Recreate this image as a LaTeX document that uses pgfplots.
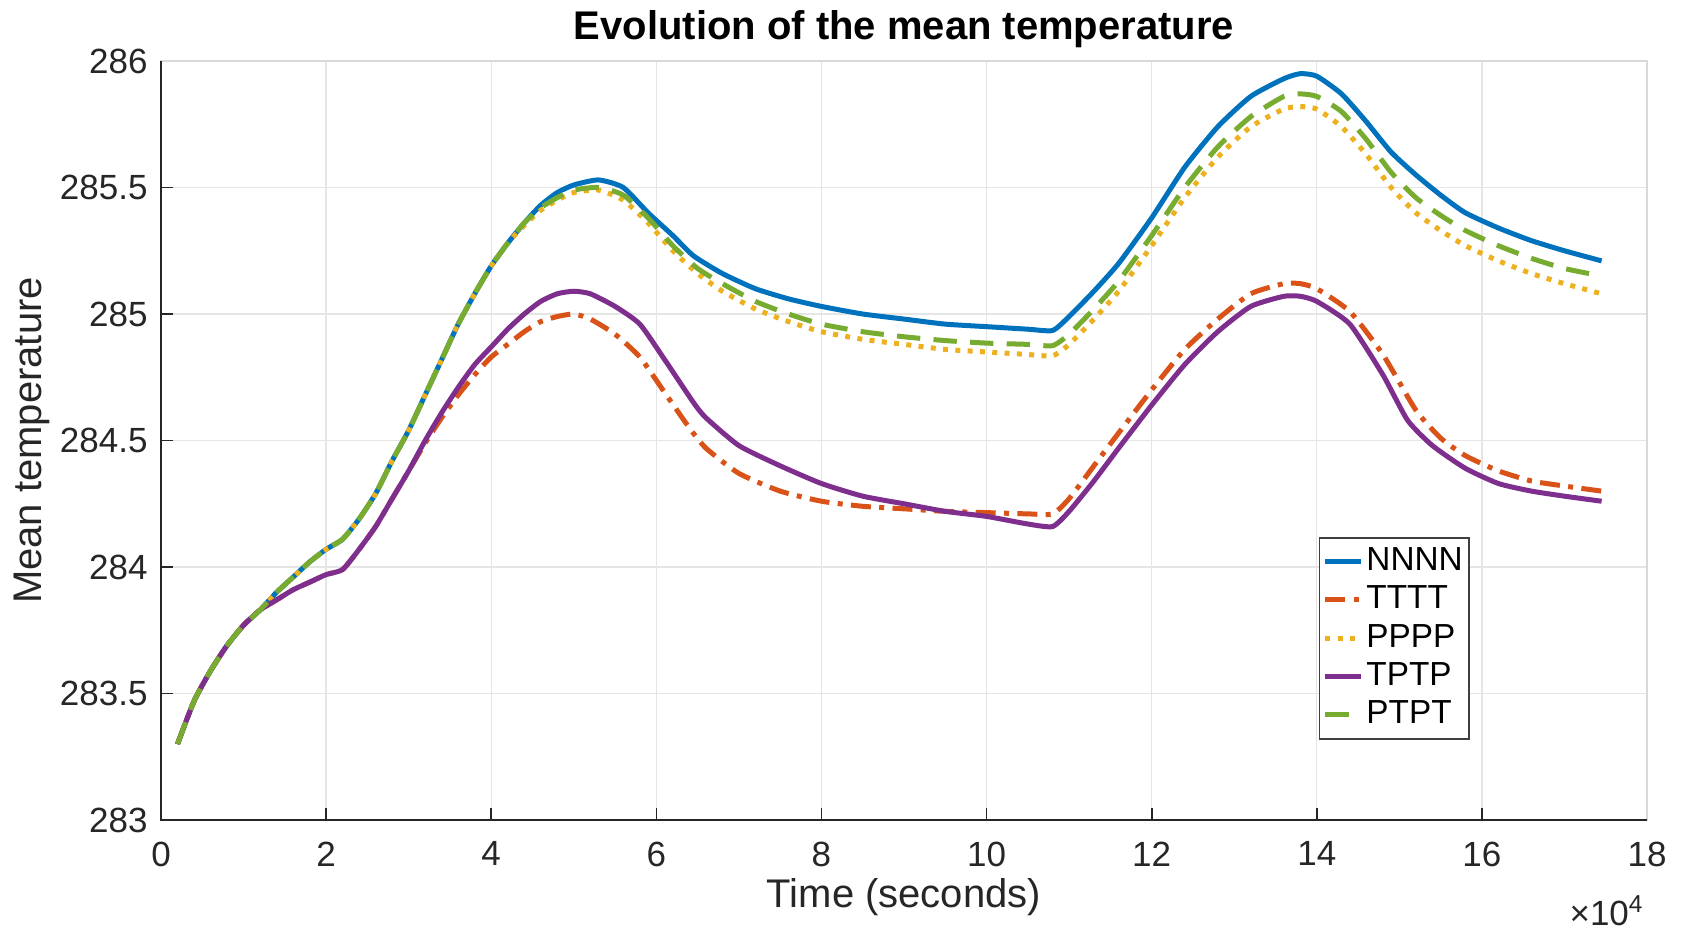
\documentclass[border=0pt]{standalone}
\usepackage{fontspec}
\setmainfont{Liberation Sans}
\usepackage{pgfplots}
\pgfplotsset{compat=1.18}
\definecolor{cN}{rgb}{0,0.447,0.741}
\definecolor{cT}{rgb}{0.85,0.325,0.098}
\definecolor{cP}{rgb}{0.929,0.694,0.125}
\definecolor{cTP}{rgb}{0.494,0.184,0.556}
\definecolor{cPT}{rgb}{0.466,0.674,0.188}
\definecolor{axdark}{rgb}{0.15,0.15,0.15}
\begin{document}
\begin{tikzpicture}
\useasboundingbox (-48.3pt,-33pt) rectangle (456.9pt,246pt);
\begin{axis}[
  scale only axis,
  width=445.8pt, height=227.7pt,
  xmin=0, xmax=18, ymin=283, ymax=286,
  xtick={0,2,...,18}, ytick={283,283.5,284,284.5,285,285.5,286},
  yticklabels={283,283.5,284,284.5,285,285.5,286},
  scaled x ticks=false,
  xtick pos=bottom, ytick pos=left,
  tick align=inside,
  major tick length=3.6pt,
  tick style={axdark, line width=0.5pt},
  axis line style={black!15, line width=0.5pt},
  grid=major,
  major grid style={black!10, line width=0.4pt},
  /pgf/number format/assume math mode=true,
  ticklabel style={font=\fontsize{10.5}{12}\selectfont, text=black!85},
  xticklabel style={yshift=-3pt},
  yticklabel style={xshift=-0.5pt},
  xlabel={Time (seconds)},
  ylabel={Mean temperature},
  label style={font=\fontsize{12}{14}\selectfont, text=black!85},
  xlabel style={at={(axis description cs:0.5,-0.101)}, anchor=center},
  ylabel style={at={(axis description cs:-0.0868,0.5)}, anchor=center, rotate=0},
  title={Evolution of the mean temperature},
  every axis title shift=0pt,
  title style={font=\bfseries\fontsize{12}{14}\selectfont, at={(axis description cs:0.5,1.042)}, anchor=center},
  legend style={at={(rel axis cs:0.779,0.373)}, anchor=north west,
    draw=black!75, fill=white, line width=0.5pt,
    font=\fontsize{10}{11.7}\selectfont, inner sep=1pt,
    nodes={inner xsep=0.8pt, inner ysep=2pt},
    row sep=-0.9pt},
  legend cell align=left,
  legend image code/.code={\draw[#1] (0cm,0cm) -- (0.38cm,0cm);},
  every axis plot/.append style={line width=1.5pt, line join=round, smooth, tension=0.35},
  clip=false,
]
% NNNN
\addplot[cN, solid] coordinates {
(0.2,283.30)(0.4,283.47)(0.6,283.59)(0.8,283.69)(1.0,283.77)(1.2,283.83)
(1.4,283.90)(1.6,283.96)(1.8,284.02)(2.0,284.07)(2.2,284.11)(2.4,284.19)
(2.6,284.29)(2.8,284.42)(3.0,284.54)(3.2,284.68)(3.4,284.82)(3.6,284.96)
(3.8,285.08)(4.0,285.19)(4.2,285.28)(4.4,285.36)(4.6,285.43)(4.8,285.48)
(5.0,285.51)(5.3,285.53)(5.6,285.50)(5.9,285.40)(6.2,285.31)(6.45,285.23)
(6.8,285.16)(7.2,285.10)(7.6,285.06)(8.0,285.03)(8.5,285.00)(9.0,284.98)
(9.5,284.96)(10.0,284.95)(10.5,284.94)(10.8,284.935)(11.0,284.99)(11.3,285.09)
(11.6,285.20)(12.0,285.38)(12.4,285.58)(12.8,285.74)(13.2,285.86)(13.6,285.93)
(13.8,285.95)(14.0,285.94)(14.3,285.87)(14.6,285.76)(14.9,285.64)(15.2,285.55)
(15.5,285.47)(15.8,285.40)(16.2,285.34)(16.6,285.29)(17.0,285.25)(17.45,285.21)
};
\addlegendentry{NNNN}
% TTTT
\addplot[cT, dash pattern=on 6pt off 2.5pt on 1.5pt off 2.5pt] coordinates {
(0.2,283.30)(0.4,283.47)(0.6,283.59)(0.8,283.69)(1.0,283.77)(1.2,283.83)
(1.4,283.87)(1.6,283.91)(1.8,283.94)(2.0,283.97)(2.2,283.99)(2.4,284.07)
(2.6,284.16)(2.8,284.27)(3.0,284.38)(3.2,284.49)(3.4,284.59)(3.6,284.68)
(3.8,284.76)(4.0,284.83)(4.2,284.88)(4.4,284.93)(4.6,284.97)(4.8,284.99)
(5.0,285.00)(5.2,284.98)(5.5,284.92)(5.8,284.83)(6.1,284.69)(6.4,284.55)
(6.6,284.47)(7.0,284.37)(7.5,284.30)(8.0,284.26)(8.5,284.24)(9.0,284.23)
(9.5,284.22)(10.0,284.215)(10.5,284.21)(10.8,284.21)(11.0,284.27)(11.3,284.40)
(11.6,284.53)(12.0,284.70)(12.4,284.86)(12.8,284.98)(13.2,285.08)(13.6,285.12)
(13.8,285.12)(14.0,285.10)(14.4,285.01)(14.8,284.84)(15.2,284.62)(15.5,284.51)
(15.8,284.44)(16.2,284.38)(16.6,284.34)(17.0,284.32)(17.45,284.30)
};
\addlegendentry{TTTT}
% PPPP
\addplot[cP, dash pattern=on 1.5pt off 2.2pt] coordinates {
(0.2,283.30)(0.4,283.47)(0.6,283.59)(0.8,283.69)(1.0,283.77)(1.2,283.83)
(1.4,283.90)(1.6,283.96)(1.8,284.02)(2.0,284.07)(2.2,284.11)(2.4,284.19)
(2.6,284.29)(2.8,284.42)(3.0,284.54)(3.2,284.68)(3.4,284.82)(3.6,284.96)
(3.8,285.08)(4.0,285.19)(4.2,285.28)(4.4,285.35)(4.6,285.41)(4.8,285.45)
(5.0,285.48)(5.3,285.49)(5.6,285.45)(5.9,285.36)(6.2,285.25)(6.5,285.16)
(6.8,285.09)(7.2,285.02)(7.6,284.97)(8.0,284.93)(8.5,284.90)(9.0,284.88)
(9.5,284.86)(10.0,284.85)(10.5,284.84)(10.8,284.835)(11.0,284.88)(11.3,284.98)
(11.6,285.09)(12.0,285.27)(12.4,285.46)(12.8,285.62)(13.2,285.74)(13.6,285.81)
(13.8,285.82)(14.0,285.81)(14.3,285.74)(14.6,285.63)(14.9,285.50)(15.2,285.40)
(15.5,285.33)(15.8,285.27)(16.2,285.21)(16.6,285.16)(17.0,285.12)(17.45,285.08)
};
\addlegendentry{PPPP}
% TPTP
\addplot[cTP, solid] coordinates {
(0.2,283.30)(0.4,283.47)(0.6,283.59)(0.8,283.69)(1.0,283.77)(1.2,283.83)
(1.4,283.87)(1.6,283.91)(1.8,283.94)(2.0,283.97)(2.2,283.99)(2.4,284.07)
(2.6,284.16)(2.8,284.27)(3.0,284.38)(3.2,284.50)(3.4,284.61)(3.6,284.71)
(3.8,284.80)(4.0,284.87)(4.2,284.94)(4.4,285.00)(4.6,285.05)(4.8,285.08)
(5.0,285.09)(5.2,285.08)(5.5,285.03)(5.8,284.96)(6.1,284.82)(6.45,284.65)
(6.6,284.59)(7.0,284.48)(7.5,284.40)(8.0,284.33)(8.5,284.28)(9.0,284.25)
(9.5,284.22)(10.0,284.20)(10.5,284.17)(10.8,284.16)(11.0,284.22)(11.3,284.34)
(11.6,284.47)(12.0,284.64)(12.4,284.80)(12.8,284.93)(13.2,285.03)(13.6,285.07)
(13.8,285.07)(14.0,285.05)(14.4,284.96)(14.8,284.76)(15.1,284.58)(15.4,284.48)
(15.8,284.39)(16.2,284.33)(16.6,284.30)(17.0,284.28)(17.45,284.26)
};
\addlegendentry{TPTP}
% PTPT
\addplot[cPT, dash pattern=on 7pt off 4pt] coordinates {
(0.2,283.30)(0.4,283.47)(0.6,283.59)(0.8,283.69)(1.0,283.77)(1.2,283.83)
(1.4,283.90)(1.6,283.96)(1.8,284.02)(2.0,284.07)(2.2,284.11)(2.4,284.19)
(2.6,284.29)(2.8,284.42)(3.0,284.54)(3.2,284.68)(3.4,284.82)(3.6,284.96)
(3.8,285.08)(4.0,285.19)(4.2,285.28)(4.4,285.36)(4.6,285.42)(4.8,285.46)
(5.0,285.49)(5.3,285.50)(5.6,285.47)(5.9,285.38)(6.2,285.27)(6.5,285.18)
(6.8,285.12)(7.2,285.05)(7.6,285.00)(8.0,284.96)(8.5,284.93)(9.0,284.91)
(9.5,284.895)(10.0,284.885)(10.5,284.88)(10.8,284.875)(11.0,284.92)(11.3,285.02)
(11.6,285.13)(12.0,285.31)(12.4,285.50)(12.8,285.66)(13.2,285.78)(13.6,285.86)
(13.8,285.87)(14.0,285.86)(14.3,285.80)(14.6,285.69)(14.9,285.56)(15.2,285.46)
(15.5,285.39)(15.8,285.33)(16.2,285.27)(16.6,285.22)(17.0,285.18)(17.45,285.15)
};
\addlegendentry{PTPT}
\draw[axdark, line width=0.5pt] (rel axis cs:0,1) -- (rel axis cs:0,0) -- (rel axis cs:1,0);
\node[font=\fontsize{10.5}{12}\selectfont, text=black!85] at (axis description cs:0.973,-0.12) {×10\textsuperscript{4}};
\end{axis}
\end{tikzpicture}
\end{document}
